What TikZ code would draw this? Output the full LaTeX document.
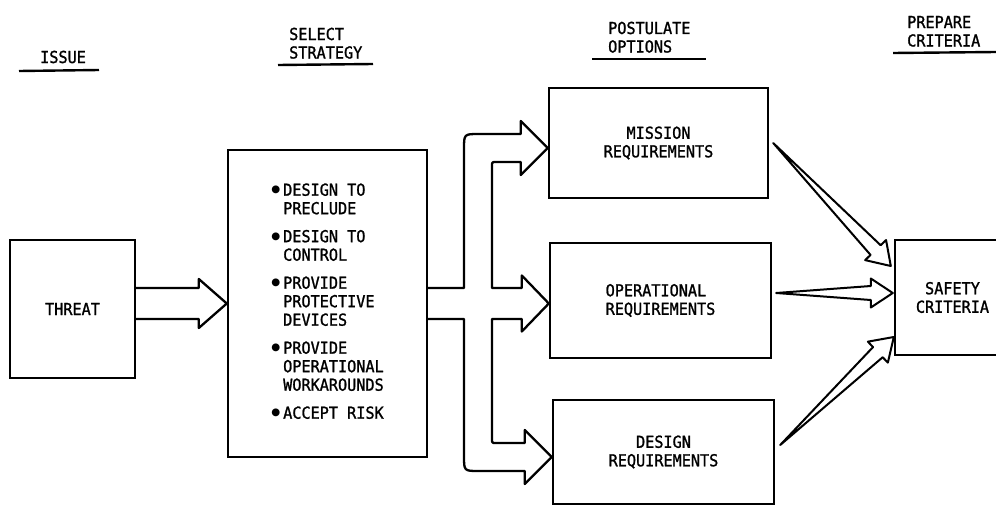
\documentclass[tikz,border=0pt]{standalone}
\usepackage{fontspec}
\newfontfamily\tw[FakeStretch=0.92,FakeBold=1.3]{DejaVu Sans Mono}
\newfontfamily\dv{DejaVu Sans}
\usetikzlibrary{calc}
\newcommand\taperarrow[2]{%
  \coordinate (hb) at ($(#2)!22pt!(#1)$);
  \draw[thinarr] (#1) -- ($(hb)!7pt!90:(#2)$) -- ($(hb)!14.5pt!90:(#2)$) -- (#2)
     -- ($(hb)!14.5pt!-90:(#2)$) -- ($(hb)!7pt!-90:(#2)$) -- cycle;}
\newcommand\bul{\raisebox{3.2pt}{\dv\scalebox{0.62}{●}}\kern 3pt}
\begin{document}
\begin{tikzpicture}[x=1pt,y=-1pt,
  txt/.style={font={\tw\fontsize{16.5}{18.5}\selectfont}, inner sep=0pt},
  box/.style={draw, line width=2.4pt, txt, align=center},
  fat/.style={draw, line width=2.3pt, line join=round},
  thinarr/.style={draw, line width=2pt, line join=round},
  ul/.style={line width=2.4pt}]
\useasboundingbox (0,0) rectangle (996,506);
\clip (0,0) rectangle (996,506);

% headers
\node[txt, anchor=base west] (hIssue) at (40,63) {ISSUE};
\node[txt, anchor=base west] (hStrat) at (289,40) {\begin{tabular}[t]{@{}l@{}}SELECT\\STRATEGY\end{tabular}};
\node[txt, anchor=base west] (hPost) at (608,34) {\begin{tabular}[t]{@{}l@{}}POSTULATE\\OPTIONS\end{tabular}};
\node[txt, anchor=base west] (hPrep) at (907,28) {\begin{tabular}[t]{@{}l@{}}PREPARE\\CRITERIA\end{tabular}};
\draw[ul] (19,71) -- (99,70);
\draw[ul] (278,65) -- (373,64);
\draw[ul] (592,59) -- (706,59);
\draw[ul] (893,53) -- (996,52);

% boxes
\node[box, minimum width=125pt, minimum height=138pt] (threat) at (72.5,309) {THREAT};
\node[box, minimum width=199pt, minimum height=307pt] (strat) at (327.5,303.5)
  {\begin{tabular}{@{}l@{}l@{}}
   \bul&DESIGN TO\\ &PRECLUDE\\[9.5pt]
   \bul&DESIGN TO\\ &CONTROL\\[9.5pt]
   \bul&PROVIDE\\ &PROTECTIVE\\ &DEVICES\\[9.5pt]
   \bul&PROVIDE\\ &OPERATIONAL\\ &WORKAROUNDS\\[9.5pt]
   \bul&ACCEPT RISK
   \end{tabular}};
\node[box, minimum width=219pt, minimum height=110pt] (mission) at (658.5,143) {MISSION\\REQUIREMENTS};
\node[box, align=left, minimum width=221pt, minimum height=115pt] (oper) at (660.5,300.5) {OPERATIONAL\\REQUIREMENTS};
\node[box, minimum width=221pt, minimum height=104pt] (design) at (663.5,452) {DESIGN\\REQUIREMENTS};
\node[box, minimum width=115pt, minimum height=115pt] (safety) at (952.5,297.5) {SAFETY\\CRITERIA};

% threat -> strategy
\coordinate (a0) at (threat.east |- strat.west);
\draw[fat] ($(a0)+(0,-15.5)$) -- ($(strat.west)+(-28,-15.5)$) -- ($(strat.west)+(-28,-24.5)$)
  -- (strat.west) -- ($(strat.west)+(-28,24.5)$) -- ($(strat.west)+(-28,15.5)$) -- ($(a0)+(0,15.5)$);

% strategy -> options (branching arrow)
\coordinate (bs) at (strat.east);
\coordinate (tm) at ($(mission.west)+(0,5)$);
\coordinate (to) at (oper.west |- bs);
\coordinate (td) at ($(design.west)+(0,5)$);
\draw[fat] ($(bs)+(0,-15.5)$) -- (464,288) -- (464,149) .. controls (464,134) .. (479,134)
  -- ($(tm)+(-27,-14)$) -- ($(tm)+(-27,-27)$) -- (tm) -- ($(tm)+(-27,27)$) -- ($(tm)+(-27,14)$)
  -- (496,162) .. controls (492,162) .. (492,166) -- (492,288)
  -- ($(to)+(-27,-15.5)$) -- ($(to)+(-27,-28)$) -- (to) -- ($(to)+(-27,28)$) -- ($(to)+(-27,15.5)$)
  -- (492,319) -- (492,439) .. controls (492,443) .. (496,443)
  -- ($(td)+(-27,-14)$) -- ($(td)+(-27,-27)$) -- (td) -- ($(td)+(-27,27)$) -- ($(td)+(-27,14)$)
  -- (479,471) .. controls (464,471) .. (464,456) -- (464,319) -- ($(bs)+(0,15.5)$);

% options -> safety criteria
\coordinate (m1) at ($(mission.east)+(4,0)$);
\coordinate (m2) at ($(safety.west)+(-3,-31.5)$);
\coordinate (o1) at ($(oper.east)+(4,-7.5)$);
\coordinate (o2) at ($(safety.west)+(-1,-4.5)$);
\coordinate (d1) at ($(design.east)+(5,-7)$);
\coordinate (d2) at ($(safety.west)+(0,39.5)$);
\taperarrow{m1}{m2}
\taperarrow{o1}{o2}
\taperarrow{d1}{d2}
\end{tikzpicture}
\end{document}
